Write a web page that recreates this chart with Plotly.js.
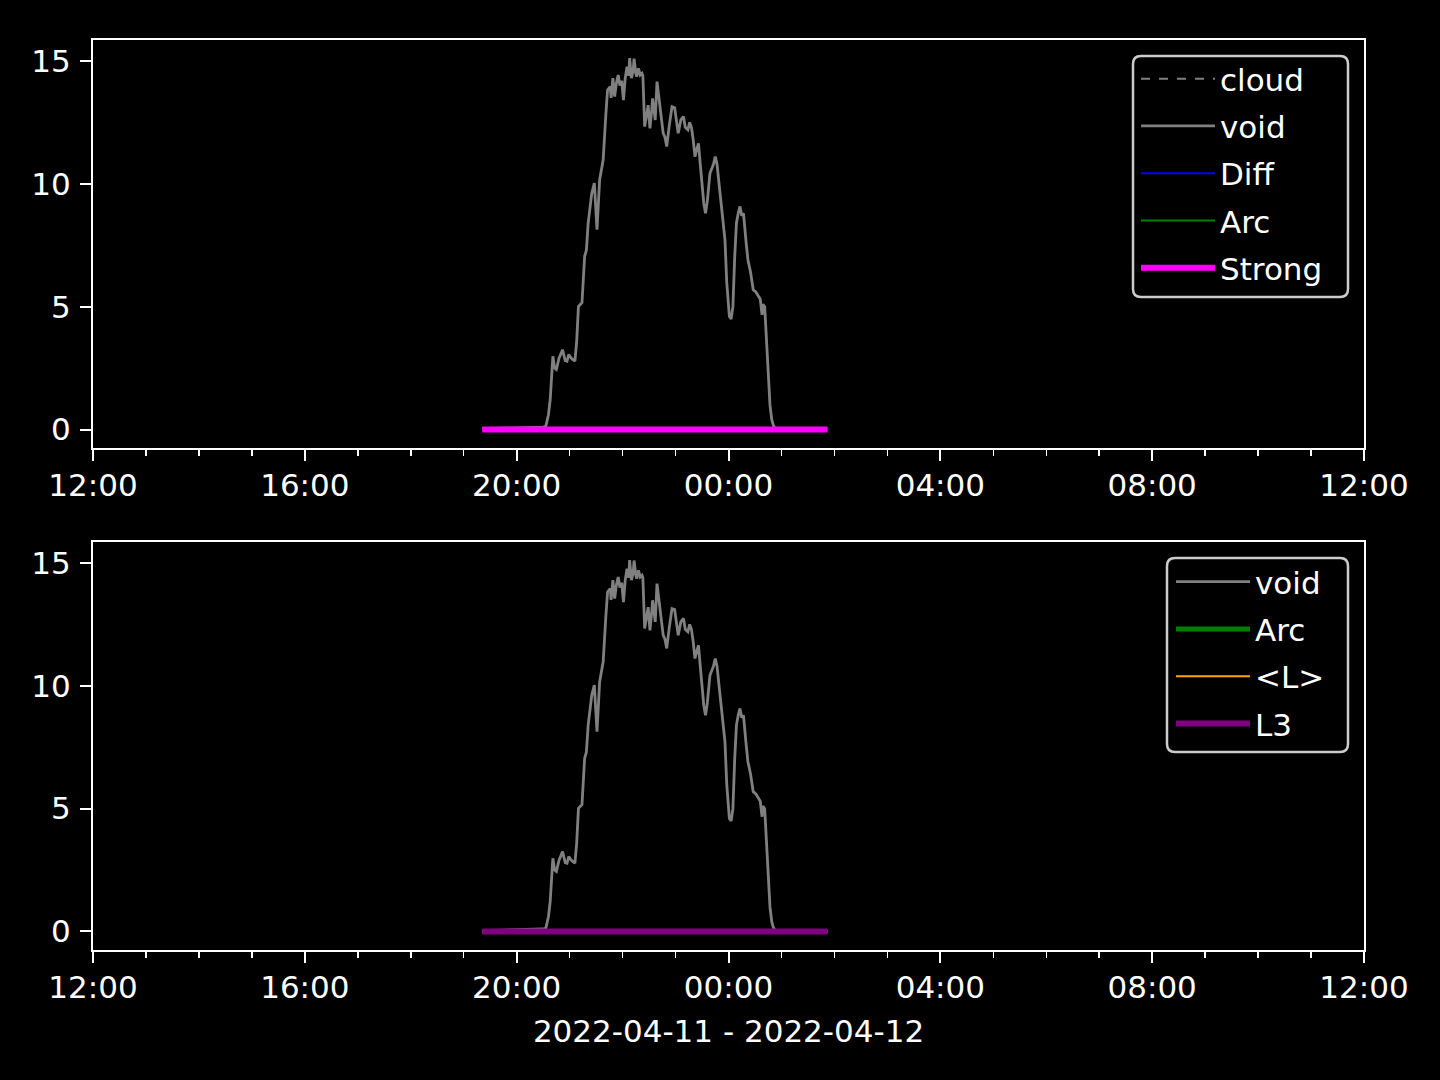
<!DOCTYPE html>
<html>
<head>
<meta charset="utf-8">
<script src="https://cdn.plot.ly/plotly-3.0.1.min.js"></script>
<style>html,body{margin:0;padding:0;background:#000;}#chart{width:1440px;height:1080px;}</style>
</head>
<body>
<div id="chart"></div>
<script>
// ---- data ----
const voidTimes = [
"2022-04-11 19:21","2022-04-11 19:40","2022-04-11 20:00","2022-04-11 20:14","2022-04-11 20:20","2022-04-11 20:30",
"2022-04-11 20:33","2022-04-11 20:36","2022-04-11 20:38","2022-04-11 20:41","2022-04-11 20:43","2022-04-11 20:45",
"2022-04-11 20:48","2022-04-11 20:52","2022-04-11 20:55","2022-04-11 20:57","2022-04-11 20:59","2022-04-11 21:02",
"2022-04-11 21:06","2022-04-11 21:08","2022-04-11 21:10","2022-04-11 21:14","2022-04-11 21:17","2022-04-11 21:19",
"2022-04-11 21:21","2022-04-11 21:25","2022-04-11 21:28","2022-04-11 21:30","2022-04-11 21:31","2022-04-11 21:34",
"2022-04-11 21:36","2022-04-11 21:38","2022-04-11 21:41","2022-04-11 21:43","2022-04-11 21:46","2022-04-11 21:47",
"2022-04-11 21:49","2022-04-11 21:50","2022-04-11 21:51","2022-04-11 21:53","2022-04-11 21:55","2022-04-11 21:57",
"2022-04-11 21:59","2022-04-11 22:01","2022-04-11 22:03","2022-04-11 22:05","2022-04-11 22:07","2022-04-11 22:08",
"2022-04-11 22:09","2022-04-11 22:10","2022-04-11 22:12","2022-04-11 22:13","2022-04-11 22:15","2022-04-11 22:16",
"2022-04-11 22:18","2022-04-11 22:20","2022-04-11 22:22","2022-04-11 22:23","2022-04-11 22:25","2022-04-11 22:27",
"2022-04-11 22:29","2022-04-11 22:30","2022-04-11 22:31","2022-04-11 22:33","2022-04-11 22:34","2022-04-11 22:36",
"2022-04-11 22:37","2022-04-11 22:39","2022-04-11 22:42","2022-04-11 22:46","2022-04-11 22:48","2022-04-11 22:50",
"2022-04-11 22:53","2022-04-11 22:56","2022-04-11 22:59","2022-04-11 23:01","2022-04-11 23:03","2022-04-11 23:06",
"2022-04-11 23:09","2022-04-11 23:11","2022-04-11 23:14","2022-04-11 23:16","2022-04-11 23:18","2022-04-11 23:20",
"2022-04-11 23:22","2022-04-11 23:24","2022-04-11 23:26","2022-04-11 23:28","2022-04-11 23:30","2022-04-11 23:32",
"2022-04-11 23:34","2022-04-11 23:36","2022-04-11 23:39","2022-04-11 23:43","2022-04-11 23:45","2022-04-11 23:47",
"2022-04-11 23:50","2022-04-11 23:53","2022-04-11 23:56","2022-04-11 23:58","2022-04-12 00:01","2022-04-12 00:03",
"2022-04-12 00:05","2022-04-12 00:07","2022-04-12 00:09","2022-04-12 00:11","2022-04-12 00:13","2022-04-12 00:15",
"2022-04-12 00:17","2022-04-12 00:20","2022-04-12 00:22","2022-04-12 00:25","2022-04-12 00:28","2022-04-12 00:31",
"2022-04-12 00:34","2022-04-12 00:36","2022-04-12 00:38","2022-04-12 00:39","2022-04-12 00:41","2022-04-12 00:43",
"2022-04-12 00:45","2022-04-12 00:47","2022-04-12 00:49","2022-04-12 00:51","2022-04-12 00:53","2022-04-12 01:00",
"2022-04-12 01:52"
];
const voidVals = [
0.03,0.05,0.06,0.10,0.08,0.10,
0.13,0.6,1.22,2.98,2.5,2.44,
2.9,3.25,2.8,2.78,3.05,2.9,
2.78,3.6,5.01,5.16,7.05,7.3,
8.4,9.6,10.03,9.0,8.13,10.16,
10.5,10.98,12.8,13.82,13.96,13.5,
14.3,13.9,13.55,14.1,14.43,14.0,
14.2,13.41,14.3,14.77,14.4,15.12,
14.5,14.3,14.6,15.1,14.5,14.36,
14.7,14.43,14.5,14.4,12.33,12.8,
13.2,12.7,12.26,13.0,13.48,12.9,
12.6,14.16,13.28,12.06,11.9,11.52,
12.4,13.14,13.1,12.6,12.06,12.6,
12.74,12.3,12.2,12.5,12.3,11.8,
11.11,11.4,11.65,10.8,10.03,9.2,
8.8,9.3,10.43,10.8,11.11,10.8,
9.76,8.7,7.72,6.0,4.6,4.5,
5.0,7.0,8.4,8.8,9.08,8.7,
8.8,7.6,6.91,6.4,5.69,5.6,
5.42,5.3,4.67,5.1,5.0,3.5,
2.03,1.0,0.4,0.15,0.05,0.02,
0.02
];
const flatTimes = ["2022-04-11 19:21","2022-04-12 01:52"];
const cloudVals = [0,0];
const diffVals = [0,0];
const arcVals = [0,0];
const strongVals = [0,0];
const meanLVals = [0,0];
const l3Vals = [0,0];
const xRange = ["2022-04-11 12:00","2022-04-12 12:00"];
const yTicks = [0,5,10,15];
const xTitle = "2022-04-11 - 2022-04-12";

// ---- traces ----
const FONT = "DejaVu Sans, sans-serif";
const FS = 31;
function tr(x,y,name,color,width,dash,xa,ya,leg,grp){
  return {x:x,y:y,name:name,type:"scatter",mode:"lines",xaxis:xa,yaxis:ya,legend:leg,legendgroup:grp,
    line:{color:color,width:width,dash:dash||"solid"},hoverinfo:"skip"};
}
const data = [
  tr(flatTimes,cloudVals,"cloud","#808080",2,"dash","x","y","legend","a1"),
  tr(voidTimes,voidVals,"void","#808080",2.8,null,"x","y","legend","a2"),
  tr(flatTimes,diffVals,"Diff","#0000ff",2,null,"x","y","legend","a3"),
  tr(flatTimes,arcVals,"Arc","#008000",2,null,"x","y","legend","a4"),
  tr(flatTimes,strongVals,"Strong","#ff00ff",6,null,"x","y","legend","a5"),
  tr(voidTimes,voidVals,"void","#808080",2.8,null,"x2","y2","legend2","b1"),
  tr(flatTimes,arcVals,"Arc","#008000",5,null,"x2","y2","legend2","b2"),
  tr(flatTimes,meanLVals,"<L>","#ffa500",2,null,"x2","y2","legend2","b3"),
  tr(flatTimes,l3Vals,"L3","#800080",6,null,"x2","y2","legend2","b4")
];

function xax(anchor, showTitle){
  const a = {range:xRange,type:"date",anchor:anchor,domain:[0,1],
    tickformat:"%H:%M",dtick:14400000,tick0:"2022-04-11 12:00",
    ticks:"outside",ticklen:11,tickwidth:2,tickcolor:"#fff",
    minor:{dtick:3600000,ticks:"outside",ticklen:6,tickwidth:1.5,tickcolor:"#fff",showgrid:false},
    showline:true,mirror:true,linecolor:"#fff",linewidth:2,showgrid:false,zeroline:false,
    tickfont:{family:FONT,size:FS,color:"#fff"},ticklabelstandoff:-2,fixedrange:true};
  if(showTitle) a.title={text:xTitle,font:{family:FONT,size:FS,color:"#fff"},standoff:16};
  return a;
}
function yax(anchor, dom){
  return {range:[-0.755,15.855],domain:dom,anchor:anchor,tickvals:yTicks,ticktext:yTicks.map(String),
    ticks:"outside",ticklen:11,tickwidth:2,tickcolor:"#fff",
    showline:true,mirror:true,linecolor:"#fff",linewidth:2,showgrid:false,zeroline:false,
    tickfont:{family:FONT,size:FS,color:"#fff"},ticklabelstandoff:3,fixedrange:true};
}
// pixel -> paper helpers (plot area: x 93..1364, y 40..950)
const px = v => (v-93)/1271, py = v => (950-v)/910;
function roundBox(x0,y0,x1,y1,r){
  const X0=px(x0),X1=px(x1),Y0=py(y0),Y1=py(y1),rx=r/1271,ry=r/910;
  const p = `M${X0+rx},${Y0} L${X1-rx},${Y0} Q${X1},${Y0} ${X1},${Y0-ry} L${X1},${Y1+ry} Q${X1},${Y1} ${X1-rx},${Y1} `+
            `L${X0+rx},${Y1} Q${X0},${Y1} ${X0},${Y1+ry} L${X0},${Y0-ry} Q${X0},${Y0} ${X0+rx},${Y0} Z`;
  return {type:"path",xref:"paper",yref:"paper",path:p,line:{color:"#cccccc",width:2.5},fillcolor:"rgba(0,0,0,0.8)",layer:"above"};
}
const legBase = {bgcolor:"rgba(0,0,0,0)",borderwidth:0,font:{family:FONT,size:FS,color:"#fff"},
  xanchor:"left",yanchor:"top",traceorder:"grouped",tracegroupgap:4,itemwidth:74,xref:"paper",yref:"paper"};
const layout = {
  width:1440,height:1080,paper_bgcolor:"#000",plot_bgcolor:"#000",
  margin:{l:93,r:76,t:40,b:130},
  showlegend:true,
  font:{family:FONT,color:"#fff"},
  xaxis:xax("y",false),
  yaxis:yax("x",[0.5516,1]),
  xaxis2:xax("y2",true),
  yaxis2:yax("x2",[0,0.4484]),
  shapes:[roundBox(1133,56,1348,297,8), roundBox(1167,558,1348,752,8)],
  legend:Object.assign({},legBase,{x:px(1136),y:py(52)}),
  legend2:Object.assign({},legBase,{x:px(1171),y:py(555)})
};
Plotly.newPlot("chart",data,layout,{staticPlot:true,displayModeBar:false});
</script>
</body>
</html>
